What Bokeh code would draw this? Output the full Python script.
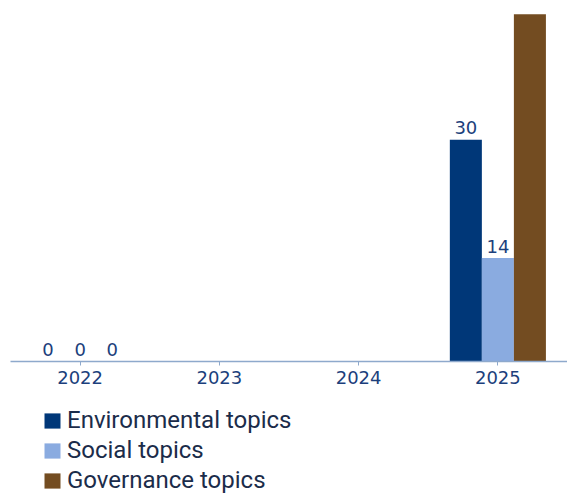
from bokeh.plotting import figure
from bokeh.layouts import column
from bokeh.models import ColumnDataSource, FactorRange, Range1d, Legend, LegendItem
from bokeh.transform import dodge
from bokeh.core.properties import value
from bokeh.embed import file_html
from bokeh.resources import INLINE

years = ["2022", "2023", "2024", "2025"]
series_names = ["Environmental topics", "Social topics", "Governance topics"]
environmental = [0, None, None, 30]
social = [0, None, None, 14]
governance = [0, None, None, 47]

colors = ["#003778", "#8aabe0", "#734c21"]
offsets = [-0.23, 0.0, 0.23]
bar_width = 0.23
y_max = 47.77
label_color = "#1c3f7c"
NaN = float("nan")

p = figure(
    x_range=FactorRange(factors=years, range_padding=0),
    y_range=Range1d(0, y_max),
    width=567, height=395,
    min_border_left=10, min_border_right=0, min_border_top=8, min_border_bottom=34,
    output_backend="svg", toolbar_location=None,
)
p.outline_line_color = None
p.background_fill_color = "white"
p.border_fill_color = "white"
p.xgrid.grid_line_color = None
p.ygrid.grid_line_color = None
p.yaxis.visible = False

ax = p.xaxis[0]
ax.axis_line_color = "#8ea9cc"
ax.axis_line_width = 1.5
ax.major_tick_line_color = "#8ea9cc"
ax.major_tick_in = 0
ax.major_tick_out = 4
ax.minor_tick_line_color = None
ax.major_label_standoff = 5
ax.major_label_text_font = "DejaVu Sans"
ax.major_label_text_font_size = "18px"
ax.major_label_text_color = label_color

for name, vals, col, off in zip(series_names, [environmental, social, governance], colors, offsets):
    tops = [NaN if v is None else v for v in vals]
    src = ColumnDataSource(dict(year=years, top=tops))
    p.vbar(x=dodge("year", off, range=p.x_range), top="top", width=bar_width,
           source=src, fill_color=col, line_color=None)
    # value labels (a label that would fall above the plot area is not shown, as in the source)
    ly = [y for y, v in zip(years, vals) if v is not None and v < y_max - 3]
    lv = [v for v in vals if v is not None and v < y_max - 3]
    lsrc = ColumnDataSource(dict(year=ly, v=lv, t=[str(v) for v in lv]))
    p.text(x=dodge("year", off, range=p.x_range), y="v", text="t", source=lsrc,
           text_align="center", text_baseline="alphabetic", y_offset=-12,
           text_font=value("DejaVu Sans"), text_font_size="18px", text_color=label_color)

# legend panel below the chart
q = figure(width=567, height=98, x_range=Range1d(0, 1), y_range=Range1d(0, 1),
           min_border_left=0, min_border_right=0, min_border_top=0, min_border_bottom=0,
           output_backend="svg", toolbar_location=None)
q.axis.visible = False
q.grid.visible = False
q.outline_line_color = None
items = []
for name, col in zip(series_names, colors):
    # legend swatch only: a glyph with no drawable point
    r = q.quad(left=[NaN], right=[NaN], top=[NaN], bottom=[NaN], fill_color=col, line_color=None)
    items.append(LegendItem(label=name, renderers=[r]))

legend = Legend(items=items, orientation="vertical")
legend.location = (32, -1)
legend.margin = 0
legend.padding = 0
legend.spacing = 2
legend.border_line_color = None
legend.background_fill_alpha = 0
legend.glyph_width = 20
legend.glyph_height = 19
legend.label_standoff = 5
legend.label_text_font = "Roboto"
legend.label_text_font_size = "24px"
legend.label_text_color = "#1b2c4a"
q.add_layout(legend)

open("out.html", "w").write(file_html(column(p, q, spacing=0), INLINE))
